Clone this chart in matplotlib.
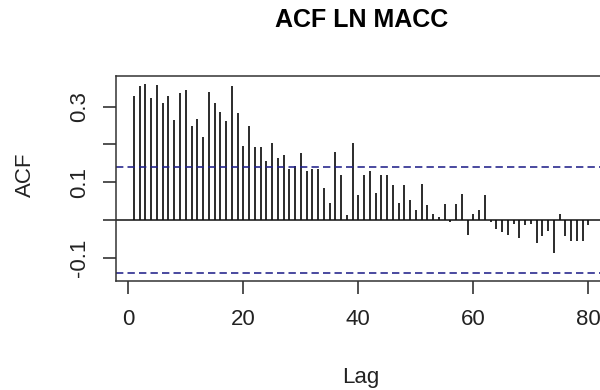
import numpy as np
import matplotlib
matplotlib.use("Agg")
import matplotlib.pyplot as plt

plt.rcParams['font.family'] = ['Liberation Sans', 'DejaVu Sans']

# autocorrelation values, lags 1..80
acf = [0.327, 0.355, 0.361, 0.324, 0.357, 0.309, 0.328, 0.264, 0.335, 0.343,
       0.249, 0.267, 0.219, 0.340, 0.309, 0.286, 0.261, 0.355, 0.283, 0.196,
       0.249, 0.193, 0.193, 0.156, 0.203, 0.163, 0.173, 0.136, 0.143, 0.177,
       0.129, 0.136, 0.136, 0.085, 0.046, 0.181, 0.118, 0.012, 0.203, 0.065,
       0.118, 0.129, 0.072, 0.118, 0.118, 0.092, 0.046, 0.092, 0.053, 0.027,
       0.095, 0.039, 0.016, 0.009, 0.042, -0.005, 0.042, 0.069, -0.040, 0.016,
       0.027, 0.065, -0.006, -0.025, -0.032, -0.040, -0.010, -0.047, -0.013, -0.010,
       -0.062, -0.043, -0.028, -0.088, 0.016, -0.043, -0.055, -0.055, -0.055, -0.013]
lag = np.arange(1, len(acf) + 1)
clim = 0.141  # 95% confidence bound

xticks = [0, 20, 40, 60, 80]
yticks = [-0.1, 0.0, 0.1, 0.2, 0.3]
ylabels = ['-0.1', '', '0.1', '', '0.3']

fig = plt.figure(figsize=(6, 3.9), dpi=100)
ax = fig.add_axes([0.193, 0.280, 0.818, 0.525])

ax.vlines(lag, 0, acf, color='#111111', lw=1.25)
ax.axhline(0, color='#111111', lw=1.1)
for c in (clim, -clim):
    ax.axhline(c, color='#20208a', lw=1.15, ls=(0, (4.6, 2.6)))

ax.set_xlim(-2.16, 83.16)
ax.set_ylim(-0.161, 0.381)

ax.set_xticks(xticks)
ax.set_xticklabels([str(t) for t in xticks])
ax.set_yticks(yticks)
ax.set_yticklabels(ylabels, rotation=90, va='center')
ax.tick_params(axis='both', length=9.5, width=1.1, labelsize=16, colors='#222222')
ax.tick_params(axis='x', pad=11)
ax.tick_params(axis='y', pad=9)
for s in ax.spines.values():
    s.set_linewidth(1.1)
    s.set_color('#333333')

fig.text(361.7 / 600, 1 - 20.3 / 390, 'ACF LN MACC', ha='center', va='center',
         fontsize=18, fontweight='bold')
fig.text(361 / 600, 1 - 377 / 390, 'Lag', ha='center', va='center', fontsize=16,
         color='#222222')
fig.text(25 / 600, 1 - 175 / 390, 'ACF', ha='center', va='center', fontsize=16,
         rotation=90, color='#222222')

fig.savefig('out.png', dpi=100)
